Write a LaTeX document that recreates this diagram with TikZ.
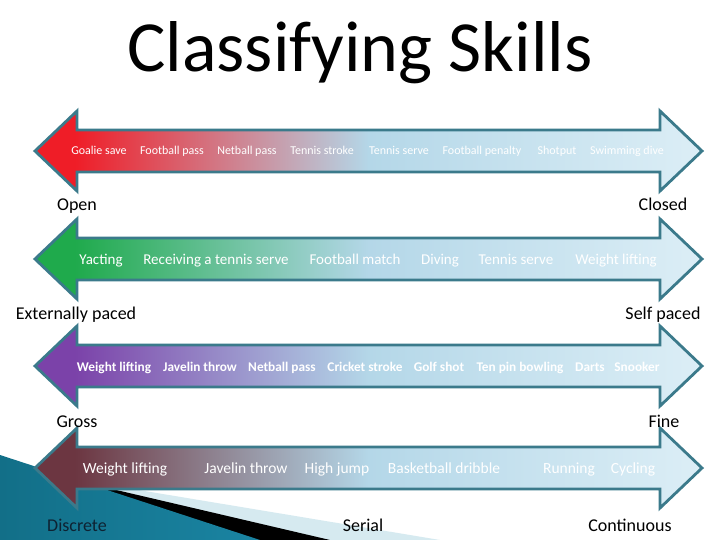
\documentclass[tikz,border=0pt]{standalone}
\usepackage{fontspec}
\setmainfont{Carlito}
\definecolor{arrborder}{HTML}{3B7A8B}
\definecolor{blueA}{HTML}{B4D7E8}
\definecolor{blueB}{HTML}{DCEEF6}
\definecolor{redA}{HTML}{EF1D27}
\definecolor{greenA}{HTML}{1FAA4C}
\definecolor{purpleA}{HTML}{7B42A9}
\definecolor{maroonA}{HTML}{6C3641}
\definecolor{tealA}{HTML}{126F88}
\definecolor{tealB}{HTML}{52B8D8}
\definecolor{tealC}{HTML}{1A84A2}
\definecolor{paleband}{HTML}{D6EAF0}
\definecolor{darktext}{HTML}{0E2232}
\pgfdeclarehorizontalshading{redshade}{100bp}{color(0bp)=(redA); color(25bp)=(redA); color(28bp)=(redA); color(50bp)=(blueA); color(75bp)=(blueB); color(100bp)=(blueB)}
\pgfdeclarehorizontalshading{greenshade}{100bp}{color(0bp)=(greenA); color(25bp)=(greenA); color(28bp)=(greenA); color(50bp)=(blueA); color(75bp)=(blueB); color(100bp)=(blueB)}
\pgfdeclarehorizontalshading{purpleshade}{100bp}{color(0bp)=(purpleA); color(25bp)=(purpleA); color(28bp)=(purpleA); color(50bp)=(blueA); color(75bp)=(blueB); color(100bp)=(blueB)}
\pgfdeclarehorizontalshading{maroonshade}{100bp}{color(0bp)=(maroonA); color(25bp)=(maroonA); color(28bp)=(maroonA); color(50bp)=(blueA); color(75bp)=(blueB); color(100bp)=(blueB)}
\newcommand\skillarrow[2]{%
  \shadedraw[arrowbody, shading=#2] (35,#1) -- (77,{#1-40}) -- (77,{#1-21}) -- (660,{#1-21}) -- (660,{#1-40}) -- (702,#1) -- (660,{#1+40}) -- (660,{#1+21}) -- (77,{#1+21}) -- (77,{#1+40}) -- cycle;}
\begin{document}
\begin{tikzpicture}[x=1pt,y=-1pt,
  arrowbody/.style={draw=arrborder, line width=2.8pt, line join=miter},
  lblA/.style={text=white, font=\fontsize{12}{14}\selectfont, anchor=base, inner sep=0pt},
  lblB/.style={text=white, font=\fontsize{15}{17}\selectfont, anchor=base, inner sep=0pt},
  lblC/.style={text=white, font=\bfseries\fontsize{13.3}{15}\selectfont, anchor=base, inner sep=0pt},
  lblD/.style={text=white, font=\fontsize{15.5}{18}\selectfont, anchor=base, inner sep=0pt},
  endlbl/.style={text=black, font=\fontsize{18}{21}\selectfont, anchor=base, inner sep=0pt},
  titlestyle/.style={text=black, font=\fontsize{72}{80}\selectfont, anchor=base, inner sep=0pt}
]
\useasboundingbox (0,0) rectangle (720,540);
\fill[white] (0,0) rectangle (720,540);
% bottom-left decoration
\fill[paleband] (0,467) -- (440,540) -- (0,540) -- cycle;
\fill[black] (0,462.8) -- (330,540) -- (0,540) -- cycle;
\shade[left color=tealA, middle color=tealB, right color=tealC] (0,455) -- (260,540) -- (0,540) -- cycle;
% title
\node[titlestyle] (title) at (360,72) {Classifying Skills};
% arrows
\skillarrow{151}{redshade}
\skillarrow{259}{greenshade}
\skillarrow{366}{purpleshade}
\skillarrow{468}{maroonshade}
% arrow 1
\node[lblA] (a1) at (99,155) {Goalie save};
\node[lblA] (a2) at (172,155) {Football pass};
\node[lblA] (a3) at (247,155) {Netball pass};
\node[lblA] (a4) at (322,155) {Tennis stroke};
\node[lblA] (a5) at (399,155) {Tennis serve};
\node[lblA] (a6) at (482,155) {Football penalty};
\node[lblA] (a7) at (557,155) {Shotput};
\node[lblA] (a8) at (627,155) {Swimming dive};
% arrow 2
\node[lblB] (b1) at (101,264) {Yacting};
\node[lblB] (b2) at (216,264) {Receiving a tennis serve};
\node[lblB] (b3) at (355,264) {Football match};
\node[lblB] (b4) at (440,264) {Diving};
\node[lblB] (b5) at (516,264) {Tennis serve};
\node[lblB] (b6) at (616,264) {Weight lifting};
% arrow 3
\node[lblC] (c1) at (114,371) {Weight lifting};
\node[lblC] (c2) at (200,371) {Javelin throw};
\node[lblC] (c3) at (282,371) {Netball pass};
\node[lblC] (c4) at (365,371) {Cricket stroke};
\node[lblC] (c5) at (439,371) {Golf shot};
\node[lblC] (c6) at (520,371) {Ten pin bowling};
\node[lblC] (c7) at (590,371) {Darts};
\node[lblC] (c8) at (637,371) {Snooker};
% arrow 4
\node[lblD] (d1) at (125,473) {Weight lifting};
\node[lblD] (d2) at (246,473) {Javelin throw};
\node[lblD] (d3) at (337,473) {High jump};
\node[lblD] (d4) at (444,473) {Basketball dribble};
\node[lblD] (d5) at (569,473) {Running};
\node[lblD] (d6) at (633,473) {Cycling};
% end labels
\node[endlbl] (open) at (77,211) {Open};
\node[endlbl] (closed) at (663,211) {Closed};
\node[endlbl] (ext) at (76,319) {Externally paced};
\node[endlbl] (self) at (663,319) {Self paced};
\node[endlbl] (gross) at (77,427) {Gross};
\node[endlbl] (fine) at (664,427) {Fine};
\node[endlbl, text=darktext] (discrete) at (77,531) {Discrete};
\node[endlbl] (serial) at (363,531) {Serial};
\node[endlbl] (cont) at (630,531) {Continuous};
\end{tikzpicture}
\end{document}
